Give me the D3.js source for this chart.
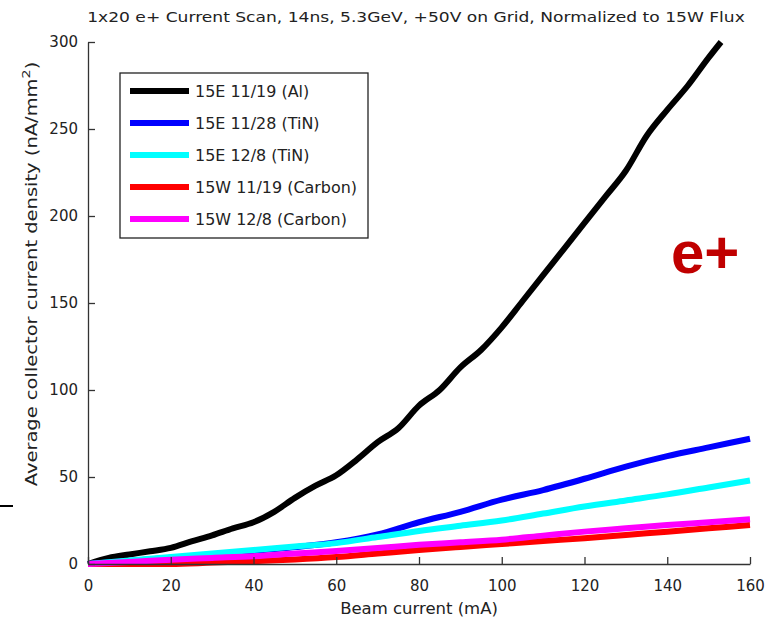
<!DOCTYPE html>
<html>
<head>
<meta charset="utf-8">
<script src="https://cdn.jsdelivr.net/npm/d3@7"></script>
<style>
  body { margin: 0; background: #fff; }
  text { font-family: "DejaVu Sans", sans-serif; }
</style>
</head>
<body>
<script>
const width = 767;
const height = 620;

// beam current (mA) and collector current density (nA/mm^2)
const currentAl = [0, 5, 10, 15, 20, 25, 30, 35, 40, 45, 50, 55, 60, 65, 70, 75, 80, 85, 90, 95, 100, 105, 110, 115, 120, 125, 130, 135, 140, 145, 150, 153];
const al1119 = [0, 3.5, 5.5, 7.3, 9.3, 13, 16.5, 20.5, 24, 30, 38, 45, 51, 60, 70, 78, 91, 100, 113, 123, 136, 151, 166, 181, 196, 211, 226, 246, 261, 275, 291, 300];

const current = [0, 10, 20, 30, 40, 50, 60, 70, 80, 90, 100, 110, 120, 130, 140, 150, 160];
const tin1128 = [0, 1.8, 3.6, 5.5, 7.5, 9.7, 12.5, 17, 24, 30, 37, 42.5, 49, 56, 62, 67, 72];
const tin128  = [0, 2, 4, 6, 8, 10, 12, 15.5, 19, 22, 25, 29, 33, 36.5, 40, 44, 48];
const c1119   = [0, 0, 0, 0.8, 1.6, 2.6, 4, 6, 8, 9.8, 11.5, 13.2, 14.8, 16.7, 18.6, 20.5, 22.4];
const c128    = [0, 1.2, 2.5, 3.5, 4.5, 6, 7.5, 9.2, 11, 12.5, 14, 16.3, 18.6, 20.5, 22.4, 24, 25.7];

const labels = ["15E 11/19 (Al)", "15E 11/28 (TiN)", "15E 12/8 (TiN)", "15W 11/19 (Carbon)", "15W 12/8 (Carbon)"];
const colors = ["#000000", "#0000ff", "#00ffff", "#ff0000", "#ff00ff"];

const xTicks = [0, 20, 40, 60, 80, 100, 120, 140, 160];
const yTicks = [0, 50, 100, 150, 200, 250, 300];

const series = [
  { x: currentAl, y: al1119 },
  { x: current, y: tin1128 },
  { x: current, y: tin128 },
  { x: current, y: c1119 },
  { x: current, y: c128 }
];

const margin = { left: 88, right: 17, top: 42, bottom: 56 };

const svg = d3.select('body')
  .append('svg')
  .attr('width', width)
  .attr('height', height);

const x = d3.scaleLinear().domain([0, 160]).range([margin.left, width - margin.right]);
const y = d3.scaleLinear().domain([0, 300]).range([height - margin.bottom, margin.top]);

// lines
const line = d3.line()
  .x(d => x(d[0]))
  .y(d => y(d[1]))
  .curve(d3.curveMonotoneX);

svg.append('g')
  .selectAll('path')
  .data(series)
  .enter().append('path')
  .attr('fill', 'none')
  .attr('stroke', (d, i) => colors[i])
  .attr('stroke-width', 6)
  .attr('stroke-linejoin', 'round')
  .attr('d', d => line(d.x.map((v, i) => [v, d.y[i]])));

// axes, ticks pointing inward
const xAxis = svg.append('g')
  .attr('transform', `translate(0,${y(0)})`)
  .call(d3.axisBottom(x).tickValues(xTicks).tickSizeInner(-7).tickSizeOuter(0).tickPadding(16));
const yAxis = svg.append('g')
  .attr('transform', `translate(${x(0)},0)`)
  .call(d3.axisLeft(y).tickValues(yTicks).tickSizeInner(-7).tickSizeOuter(0).tickPadding(10));

[xAxis, yAxis].forEach(a => {
  a.select('.domain').attr('stroke', '#333').attr('stroke-width', 1.3);
  a.selectAll('.tick line').attr('stroke', '#333').attr('stroke-width', 1.3);
  a.selectAll('.tick text').attr('fill', '#222').style('font-size', '15px').style('font-family', '"DejaVu Sans", sans-serif');
});

// title and axis labels (the original bitmap is stretched along the text)
svg.append('text')
  .attr('transform', `translate(${(x(0) + x(160)) / 2 - 3},22) scale(1.18,1)`)
  .attr('text-anchor', 'middle')
  .attr('fill', '#222')
  .style('font-size', '14.5px')
  .text('1x20 e+ Current Scan, 14ns, 5.3GeV, +50V on Grid, Normalized to 15W Flux');

svg.append('text')
  .attr('transform', `translate(${(x(0) + x(160)) / 2},614) scale(1.1,1)`)
  .attr('text-anchor', 'middle')
  .attr('fill', '#222')
  .style('font-size', '15px')
  .text('Beam current (mA)');

const yl = svg.append('text')
  .attr('transform', `translate(37,274) rotate(-90) scale(1.3,1)`)
  .attr('text-anchor', 'middle')
  .attr('fill', '#222')
  .style('font-size', '15px');
yl.append('tspan').text('Average collector current density (nA/mm');
yl.append('tspan').attr('dy', -7).style('font-size', '11px').text('2');
yl.append('tspan').attr('dy', 7).text(')');

// stray tick at the left edge
svg.append('line')
  .attr('x1', 0).attr('x2', 13)
  .attr('y1', 506).attr('y2', 506)
  .attr('stroke', '#000').attr('stroke-width', 2);

// legend
const lg = svg.append('g');
lg.append('rect')
  .attr('x', 120).attr('y', 73)
  .attr('width', 248).attr('height', 165)
  .attr('fill', '#fff').attr('stroke', '#222').attr('stroke-width', 1.3);

const rows = lg.selectAll('g.row')
  .data(labels)
  .enter().append('g')
  .attr('class', 'row')
  .attr('transform', (d, i) => `translate(0,${91 + i * 32})`);
rows.append('line')
  .attr('x1', 130).attr('x2', 189)
  .attr('stroke', (d, i) => colors[i])
  .attr('stroke-width', 6);
rows.append('text')
  .attr('transform', 'translate(195,6) scale(1.03,1)')
  .attr('fill', '#222')
  .style('font-size', '15.5px')
  .text(d => d);

// e+ tag
svg.append('text')
  .attr('x', 671)
  .attr('y', 273)
  .attr('fill', '#c00000')
  .style('font-family', '"Liberation Sans", Arial, sans-serif')
  .style('font-weight', 'bold')
  .style('font-size', '60px')
  .text('e+');
</script>
</body>
</html>
